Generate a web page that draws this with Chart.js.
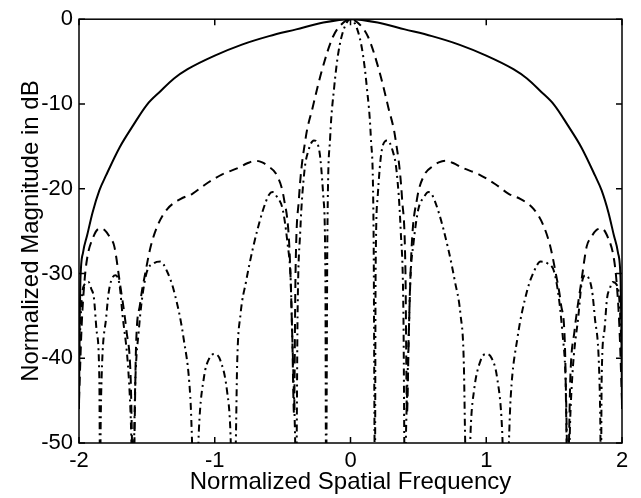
<!DOCTYPE html>
<html>
<head>
<meta charset="utf-8">
<script src="https://cdn.jsdelivr.net/npm/chart.js@4.4.0/dist/chart.umd.min.js"></script>
<style>
  html, body { margin: 0; padding: 0; background: #fff; }
  #wrap { width: 641px; height: 498px; }
</style>
</head>
<body>
<div id="wrap"><canvas id="beamChart" width="641" height="498"></canvas></div>
<script>
// axis ticks
const xTicks = [-2, -1, 0, 1, 2];
const yTicks = [-50, -40, -30, -20, -10, 0];

// solid curve (wide beam)
const solidX = [-2.0, -1.995, -1.99, -1.97, -1.94, -1.9, -1.85, -1.8, -1.7, -1.6, -1.5, -1.4, -1.3, -1.2, -1.0, -0.8, -0.6, -0.4, -0.2, 0,
  0.2, 0.4, 0.6, 0.8, 1.0, 1.2, 1.3, 1.4, 1.5, 1.6, 1.7, 1.8, 1.85, 1.9, 1.94, 1.97, 1.99, 1.995, 2.0];
const solidY = [-46, -36, -31, -27.5, -25.5, -22.8, -20.2, -18.4, -15.1, -12.5, -10.1, -8.5, -7.0, -5.9, -4.3, -3.0, -2.0, -1.2, -0.4, 0,
  -0.4, -1.2, -2.0, -3.0, -4.3, -5.9, -7.0, -8.5, -10.1, -12.5, -15.1, -18.4, -20.2, -22.8, -25.5, -27.5, -31, -36, -46];

// dashed curve
const dashX = [-2.0, -1.98, -1.96, -1.94, -1.9, -1.85, -1.81, -1.77, -1.74, -1.7, -1.65, -1.62, -1.6, -1.58, -1.55, -1.51, -1.47, -1.42, -1.35, -1.25, -1.165, -1.07, -0.945, -0.82, -0.76, -0.7, -0.65, -0.61, -0.54, -0.49, -0.45, -0.43, -0.416, -0.405, -0.38, -0.33, -0.28, -0.21, -0.13, -0.06, 0,
  0.06, 0.13, 0.21, 0.28, 0.33, 0.38, 0.405, 0.416, 0.43, 0.45, 0.49, 0.54, 0.61, 0.65, 0.7, 0.76, 0.82, 0.945, 1.07, 1.165, 1.25, 1.35, 1.42, 1.47, 1.51, 1.55, 1.58, 1.6, 1.62, 1.65, 1.7, 1.74, 1.77, 1.81, 1.85, 1.9, 1.94, 1.96, 1.98, 2.0];
const dashY = [-45, -36, -31, -28.2, -25.9, -24.7, -24.9, -25.8, -26.8, -31, -36.8, -42, -55, -38.7, -33.6, -29.8, -26.7, -24.3, -22.4, -21.2, -20.6, -19.5, -18.3, -17.5, -17.0, -16.7, -16.9, -17.3, -18.5, -21.2, -27, -36.8, -46.5, -30, -21.2, -14, -10.5, -6.0, -2.1, -0.5, 0,
  -0.5, -2.1, -6.0, -10.5, -14, -21.2, -30, -46.5, -36.8, -27, -21.2, -18.5, -17.3, -16.9, -16.7, -17.0, -17.5, -18.3, -19.5, -20.6, -21.2, -22.4, -24.3, -26.7, -29.8, -33.6, -38.7, -55, -42, -36.8, -31, -26.8, -25.8, -24.9, -24.7, -25.9, -28.2, -31, -36, -45];

// dash-dot curve (narrow beam)
const dotX = [-2.0, -1.98, -1.96, -1.93, -1.91, -1.89, -1.87, -1.85, -1.845, -1.84, -1.83, -1.8, -1.78, -1.75, -1.73, -1.7, -1.68, -1.64, -1.62, -1.603, -1.585, -1.56, -1.535, -1.5, -1.45, -1.4, -1.35, -1.3, -1.23, -1.18, -1.14, -1.117, -1.08, -1.04, -1.0, -0.96, -0.91, -0.885, -0.865, -0.845, -0.835, -0.81, -0.77, -0.72, -0.65, -0.6, -0.575, -0.54, -0.5, -0.465, -0.44, -0.43, -0.41, -0.4, -0.39, -0.37, -0.34, -0.31, -0.27, -0.23, -0.2, -0.185, -0.18, -0.17, -0.15, -0.12, -0.09, -0.05, 0,
  0.05, 0.09, 0.12, 0.15, 0.17, 0.18, 0.185, 0.2, 0.23, 0.27, 0.31, 0.34, 0.37, 0.39, 0.4, 0.41, 0.43, 0.44, 0.465, 0.5, 0.54, 0.575, 0.6, 0.65, 0.72, 0.77, 0.81, 0.835, 0.845, 0.865, 0.885, 0.91, 0.96, 1.0, 1.04, 1.08, 1.117, 1.14, 1.18, 1.23, 1.3, 1.35, 1.4, 1.45, 1.5, 1.535, 1.56, 1.585, 1.603, 1.62, 1.64, 1.68, 1.7, 1.73, 1.75, 1.78, 1.8, 1.83, 1.84, 1.845, 1.85, 1.87, 1.89, 1.91, 1.93, 1.96, 1.98, 2.0];
const dotY = [-40, -33, -31.3, -31, -31.8, -32.9, -36.8, -42.6, -55, -47.3, -40.7, -35.2, -32.1, -30.4, -30.2, -31.5, -34.8, -40.7, -46.5, -55, -42.6, -36.8, -32.9, -29.8, -28.8, -28.6, -29.8, -32.1, -37.6, -44.6, -60, -48.5, -42.3, -40, -39.5, -40.2, -43.8, -48.5, -60, -50, -40.7, -34.8, -31, -27.1, -22.8, -20.7, -20.4, -21, -22.4, -26.3, -31, -36.8, -48, -55, -35, -25, -18, -15.5, -14.3, -15.5, -21, -30, -55, -25, -14, -8, -4, -1.2, 0,
  -1.2, -4, -8, -14, -25, -55, -30, -21, -15.5, -14.3, -15.5, -18, -25, -35, -55, -48, -36.8, -31, -26.3, -22.4, -21, -20.4, -20.7, -22.8, -27.1, -31, -34.8, -40.7, -50, -60, -48.5, -43.8, -40.2, -39.5, -40, -42.3, -48.5, -60, -44.6, -37.6, -32.1, -29.8, -28.6, -28.8, -29.8, -32.9, -36.8, -42.6, -55, -46.5, -40.7, -34.8, -31.5, -30.2, -30.4, -32.1, -35.2, -40.7, -47.3, -55, -42.6, -36.8, -32.9, -31.8, -31, -31.3, -33, -40];

function pts(xs, ys) {
  return xs.map((x, i) => ({ x: x, y: ys[i] }));
}

// MATLAB-style box with inward ticks on all four sides
const boxTicks = {
  id: "boxTicks",
  afterDraw(chart) {
    const { ctx, chartArea: a, scales } = chart;
    const len = 6;
    ctx.save();
    ctx.strokeStyle = "#000";
    ctx.lineWidth = 1.5;
    ctx.strokeRect(a.left, a.top, a.right - a.left, a.bottom - a.top);
    ctx.beginPath();
    xTicks.forEach((v) => {
      const px = scales.x.getPixelForValue(v);
      ctx.moveTo(px, a.bottom);
      ctx.lineTo(px, a.bottom - len);
      ctx.moveTo(px, a.top);
      ctx.lineTo(px, a.top + len);
    });
    yTicks.forEach((v) => {
      const py = scales.y.getPixelForValue(v);
      ctx.moveTo(a.left, py);
      ctx.lineTo(a.left + len, py);
      ctx.moveTo(a.right, py);
      ctx.lineTo(a.right - len, py);
    });
    ctx.stroke();
    ctx.restore();
  },
};

const tickFont = { family: "'Liberation Sans', Arial, sans-serif", size: 22 };
const titleFont = { family: "'Liberation Sans', Arial, sans-serif", size: 24 };

new Chart(document.getElementById("beamChart").getContext("2d"), {
  type: "scatter",
  data: {
    datasets: [
      {
        label: "solid",
        data: pts(solidX, solidY),
        showLine: true,
        borderColor: "#000",
        borderWidth: 2,
        pointRadius: 0,
        cubicInterpolationMode: "monotone",
      },
      {
        label: "dashed",
        data: pts(dashX, dashY),
        showLine: true,
        borderColor: "#000",
        borderWidth: 2,
        borderDash: [9, 6],
        pointRadius: 0,
        cubicInterpolationMode: "monotone",
      },
      {
        label: "dashdot",
        data: pts(dotX, dotY),
        showLine: true,
        borderColor: "#000",
        borderWidth: 2,
        borderDash: [7, 4, 2, 4],
        pointRadius: 0,
        cubicInterpolationMode: "monotone",
      },
    ],
  },
  options: {
    responsive: false,
    animation: false,
    layout: { padding: { top: 15, right: 19, left: 0, bottom: 0 } },
    plugins: {
      legend: { display: false },
      tooltip: { enabled: false },
    },
    scales: {
      x: {
        type: "linear",
        min: -2,
        max: 2,
        afterBuildTicks: (s) => { s.ticks = xTicks.map((v) => ({ value: v })); },
        afterFit: (s) => { s.height = 55; },
        grid: { display: false, drawTicks: false },
        border: { display: false },
        ticks: { color: "#000", font: tickFont, padding: 5 },
        title: {
          display: true,
          text: "Normalized Spatial Frequency",
          color: "#000",
          font: titleFont,
          padding: { top: 0, bottom: 1 },
        },
      },
      y: {
        min: -50,
        max: 0,
        afterBuildTicks: (s) => { s.ticks = yTicks.map((v) => ({ value: v })); },
        afterFit: (s) => { s.width = 79; },
        grid: { display: false, drawTicks: false },
        border: { display: false },
        ticks: { color: "#000", font: tickFont, padding: 6 },
        title: {
          display: true,
          text: "Normalized Magnitude in dB",
          color: "#000",
          font: titleFont,
          padding: { top: 17, bottom: 0 },
        },
      },
    },
  },
  plugins: [boxTicks],
});
</script>
</body>
</html>
